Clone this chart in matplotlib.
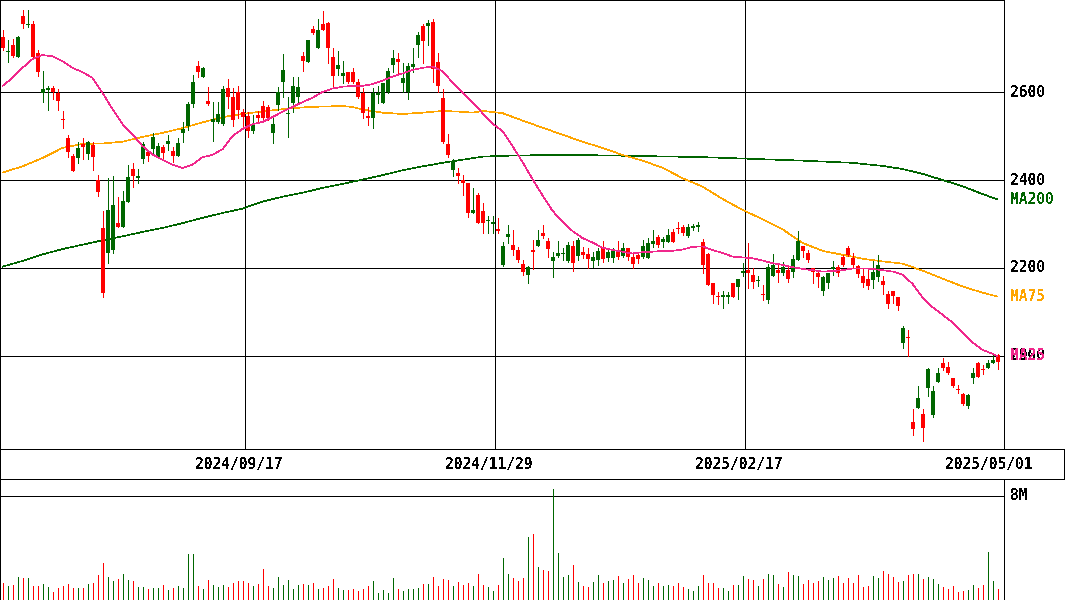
import matplotlib
matplotlib.use("Agg")
import matplotlib.pyplot as plt
from matplotlib import transforms

# ---- daily prices (yen), oldest first; last session is 2025/05/01 ----
opens = [2726, 2691, 2707, 2679, 2773, 2753, 2754, 2689, 2597, 2604,
         2610, 2598, 2538, 2496, 2455, 2449, 2482, 2459, 2480, 2400,
         2290, 2233, 2241, 2303, 2294, 2351, 2425, 2405, 2448, 2463,
         2470, 2449, 2476, 2481, 2466, 2455, 2507, 2523, 2572, 2659,
         2635, 2579, 2531, 2532, 2527, 2608, 2589, 2599, 2554, 2546,
         2512, 2548, 2568, 2567, 2506, 2570, 2623, 2551, 2574, 2589,
         2682, 2669, 2743, 2699, 2754, 2757, 2680, 2652, 2637, 2646,
         2646, 2623, 2598, 2545, 2542, 2593, 2574, 2599, 2661, 2674,
         2620, 2599, 2657, 2707, 2750, 2750, 2760, 2669, 2587, 2482,
         2423, 2416, 2400, 2394, 2326, 2366, 2330, 2307, 2300, 2288,
         2207, 2271, 2252, 2241, 2208, 2183, 2241, 2250, 2279, 2261,
         2215, 2227, 2232, 2216, 2250, 2227, 2237, 2232, 2215, 2218,
         2245, 2222, 2222, 2237, 2227, 2245, 2224, 2230, 2226, 2223,
         2255, 2270, 2260, 2260, 2281, 2292, 2294, 2273, 2290, 2294,
         2260, 2232, 2165, 2135, 2133, 2135, 2165, 2156, 2189, 2195,
         2184, 2170, 2140, 2127, 2182, 2195, 2189, 2195, 2192, 2218,
         2250, 2233, 2199, 2188, 2148, 2167, 2197, 2203, 2226, 2245,
         2222, 2205, 2182, 2174, 2173, 2180, 2170, 2140, 2148, 2133,
         2030, 2041, 1851, 1881, 1868, 1928, 1866, 1940, 1983, 1976,
         1949, 1925, 1913, 1886, 1951, 1983, 1969, 1973, 1983, 2002]
highs = [2741, 2718, 2720, 2728, 2786, 2786, 2761, 2695, 2648, 2614,
         2614, 2607, 2557, 2502, 2459, 2487, 2496, 2489, 2487, 2411,
         2329, 2404, 2409, 2362, 2375, 2434, 2438, 2424, 2487, 2468,
         2507, 2483, 2480, 2502, 2476, 2495, 2532, 2578, 2639, 2670,
         2657, 2611, 2578, 2578, 2614, 2629, 2608, 2614, 2561, 2555,
         2548, 2557, 2579, 2570, 2542, 2611, 2686, 2589, 2633, 2633,
         2690, 2718, 2750, 2766, 2784, 2760, 2699, 2694, 2670, 2646,
         2655, 2629, 2608, 2567, 2608, 2614, 2620, 2654, 2695, 2689,
         2665, 2665, 2699, 2737, 2754, 2764, 2766, 2688, 2606, 2505,
         2447, 2427, 2411, 2394, 2381, 2371, 2348, 2318, 2318, 2313,
         2259, 2298, 2286, 2248, 2218, 2205, 2264, 2286, 2298, 2268,
         2237, 2262, 2245, 2259, 2262, 2268, 2248, 2246, 2237, 2245,
         2261, 2243, 2245, 2261, 2256, 2246, 2235, 2237, 2264, 2268,
         2286, 2275, 2270, 2288, 2288, 2305, 2298, 2300, 2300, 2305,
         2265, 2233, 2165, 2146, 2147, 2146, 2167, 2174, 2212, 2257,
         2199, 2182, 2161, 2208, 2232, 2207, 2214, 2203, 2230, 2284,
         2250, 2241, 2199, 2194, 2182, 2189, 2217, 2207, 2230, 2250,
         2235, 2207, 2199, 2197, 2217, 2230, 2182, 2148, 2148, 2133,
         2068, 2059, 1879, 1932, 1879, 1972, 1932, 1972, 1995, 1987,
         1949, 1935, 1915, 1913, 1972, 1987, 1980, 1991, 2007, 2004]
lows = [2695, 2669, 2679, 2679, 2746, 2748, 2679, 2636, 2578, 2559,
        2583, 2559, 2519, 2453, 2421, 2438, 2447, 2447, 2423, 2364,
        2135, 2211, 2235, 2294, 2294, 2351, 2385, 2394, 2438, 2443,
        2461, 2449, 2447, 2468, 2442, 2455, 2487, 2514, 2567, 2635,
        2635, 2570, 2489, 2529, 2525, 2563, 2523, 2540, 2517, 2498,
        2506, 2530, 2536, 2536, 2485, 2559, 2588, 2498, 2555, 2574,
        2648, 2669, 2732, 2699, 2742, 2665, 2608, 2639, 2620, 2620,
        2620, 2586, 2542, 2525, 2519, 2574, 2574, 2597, 2646, 2641,
        2599, 2583, 2646, 2680, 2665, 2707, 2623, 2601, 2483, 2452,
        2410, 2394, 2366, 2317, 2326, 2302, 2280, 2279, 2279, 2279,
        2204, 2256, 2229, 2214, 2184, 2167, 2197, 2250, 2268, 2226,
        2180, 2226, 2218, 2214, 2194, 2218, 2222, 2199, 2203, 2207,
        2214, 2216, 2214, 2220, 2226, 2218, 2199, 2211, 2222, 2222,
        2248, 2248, 2248, 2258, 2258, 2279, 2275, 2270, 2286, 2283,
        2189, 2161, 2121, 2118, 2108, 2120, 2133, 2129, 2182, 2154,
        2154, 2159, 2127, 2121, 2182, 2169, 2184, 2169, 2180, 2218,
        2226, 2214, 2165, 2156, 2139, 2154, 2184, 2182, 2205, 2227,
        2203, 2180, 2156, 2152, 2154, 2171, 2141, 2108, 2120, 2105,
        2018, 2000, 1820, 1881, 1807, 1908, 1862, 1940, 1968, 1960,
        1930, 1916, 1888, 1881, 1938, 1953, 1959, 1973, 1983, 1970]
closes = [2699, 2693, 2682, 2726, 2754, 2755, 2679, 2646, 2606, 2610,
          2601, 2580, 2537, 2464, 2421, 2473, 2474, 2486, 2453, 2373,
          2143, 2332, 2343, 2294, 2352, 2407, 2410, 2410, 2481, 2455,
          2498, 2477, 2461, 2488, 2455, 2483, 2517, 2572, 2623, 2646,
          2654, 2573, 2539, 2551, 2606, 2588, 2536, 2559, 2544, 2512,
          2527, 2540, 2542, 2542, 2527, 2599, 2650, 2552, 2614, 2611,
          2670, 2718, 2733, 2741, 2742, 2699, 2637, 2661, 2644, 2623,
          2623, 2589, 2553, 2542, 2598, 2598, 2620, 2648, 2677, 2669,
          2631, 2659, 2663, 2730, 2716, 2756, 2652, 2614, 2487, 2457,
          2440, 2410, 2394, 2326, 2332, 2303, 2303, 2309, 2304, 2284,
          2250, 2277, 2241, 2218, 2191, 2202, 2237, 2264, 2273, 2243,
          2224, 2233, 2235, 2252, 2211, 2264, 2230, 2220, 2224, 2239,
          2220, 2237, 2239, 2226, 2246, 2226, 2209, 2220, 2250, 2256,
          2262, 2252, 2265, 2275, 2258, 2288, 2279, 2294, 2295, 2298,
          2207, 2161, 2139, 2134, 2139, 2139, 2135, 2174, 2194, 2189,
          2169, 2171, 2139, 2203, 2207, 2189, 2203, 2174, 2220, 2261,
          2239, 2218, 2192, 2180, 2179, 2189, 2203, 2188, 2207, 2230,
          2207, 2187, 2167, 2159, 2192, 2207, 2161, 2118, 2136, 2114,
          2063, 2040, 1833, 1904, 1836, 1970, 1920, 1961, 1973, 1962,
          1932, 1923, 1890, 1911, 1961, 1953, 1968, 1983, 1991, 1987]

# ---- daily volume, millions of shares ----
volumes = [1.29, 1.06, 1.14, 1.75, 1.68, 1.68, 1.06, 1.06, 1.21, 0.98,
           0.59, 0.90, 1.06, 1.21, 0.90, 0.90, 0.90, 1.21, 1.29, 1.91,
           2.84, 1.75, 1.45, 1.60, 1.99, 1.52, 1.45, 0.98, 0.98, 0.83,
           0.90, 0.90, 1.14, 0.75, 0.90, 1.06, 0.90, 3.54, 3.54, 1.06,
           0.83, 1.52, 1.14, 0.98, 1.14, 0.98, 1.29, 1.45, 1.45, 1.29,
           1.06, 1.21, 2.37, 1.06, 0.90, 1.75, 1.14, 1.52, 0.83, 1.14,
           1.21, 1.14, 1.29, 0.83, 0.90, 1.06, 1.60, 0.90, 0.75, 0.75,
           0.83, 0.67, 0.83, 1.06, 1.45, 0.52, 0.75, 0.52, 1.68, 0.83,
           0.67, 0.83, 0.83, 0.90, 1.21, 1.21, 1.75, 1.06, 1.60, 1.52,
           1.06, 1.37, 1.14, 1.29, 1.06, 1.99, 1.14, 0.98, 0.67, 1.14,
           3.23, 1.99, 1.68, 1.45, 1.68, 4.85, 5.06, 2.53, 2.27, 2.19,
           8.54, 3.59, 1.75, 1.88, 2.66, 1.34, 1.06, 0.95, 1.34, 1.88,
           1.26, 1.42, 1.50, 1.81, 1.26, 1.57, 1.88, 1.26, 1.65, 1.50,
           1.03, 1.26, 1.03, 1.11, 1.03, 1.26, 0.95, 0.80, 0.65, 1.03,
           1.88, 1.26, 1.26, 0.88, 0.88, 0.65, 1.11, 1.11, 1.81, 1.57,
           1.50, 1.03, 1.57, 1.96, 1.88, 1.19, 0.95, 2.12, 1.88, 1.81,
           1.19, 1.50, 1.26, 1.42, 1.73, 1.50, 1.65, 1.81, 1.26, 1.65,
           1.26, 1.88, 0.95, 1.03, 1.81, 1.65, 2.19, 1.96, 1.73, 1.34,
           1.42, 1.88, 1.96, 1.96, 1.57, 1.73, 1.57, 1.19, 0.95, 0.80,
           1.03, 0.57, 0.65, 0.72, 1.11, 0.88, 1.11, 3.66, 1.42, 0.80]

# ---- moving averages, sampled by session index ----
ma25_idx = [0, 2, 4, 6, 8, 10, 12, 14, 16, 18, 20, 22, 24, 26, 28, 30, 32, 34,
            36, 38, 40, 42, 44, 46, 48, 50, 52, 54, 56, 58, 60, 62, 64, 66, 68,
            70, 72, 74, 76, 78, 80, 82, 84, 86, 88, 90, 92, 94, 96, 98, 100,
            102, 104, 106, 108, 110, 112, 114, 116, 118, 120, 122, 124, 126,
            128, 130, 132, 134, 136, 138, 140, 142, 144, 146, 148, 150, 152,
            154, 156, 158, 160, 162, 164, 166, 168, 170, 172, 174, 176, 178,
            180, 182, 184, 186, 188, 190, 192, 194, 196, 198, 199]
ma25_val = [2614, 2632, 2655, 2675, 2684, 2681, 2670, 2655, 2645, 2632, 2598,
            2561, 2527, 2504, 2477, 2458, 2446, 2435, 2427, 2435, 2452, 2457,
            2470, 2500, 2516, 2527, 2532, 2543, 2555, 2566, 2577, 2587, 2600,
            2608, 2612, 2614, 2614, 2618, 2626, 2635, 2642, 2650, 2655, 2658,
            2647, 2622, 2599, 2577, 2552, 2528, 2511, 2477, 2441, 2402, 2365,
            2330, 2305, 2284, 2268, 2258, 2246, 2241, 2237, 2233, 2236, 2237,
            2239, 2239, 2242, 2248, 2249, 2241, 2234, 2226, 2224, 2222, 2217,
            2211, 2207, 2202, 2198, 2195, 2192, 2193, 2195, 2199, 2199, 2198,
            2195, 2192, 2185, 2164, 2133, 2111, 2094, 2076, 2054, 2031, 2014,
            2005, 2000]
ma75_idx = [0, 4, 8, 12, 16, 20, 24, 28, 32, 36, 40, 44, 48, 52, 56, 60, 64,
            68, 70, 72, 76, 80, 84, 88, 92, 94, 96, 100, 104, 108, 112, 116,
            120, 124, 128, 132, 136, 140, 144, 148, 152, 156, 160, 164, 168,
            172, 176, 180, 184, 188, 192, 196, 199]
ma75_val = [2417, 2431, 2450, 2473, 2482, 2483, 2487, 2498, 2507, 2518, 2531,
            2543, 2550, 2556, 2561, 2565, 2567, 2568, 2566, 2560, 2553, 2550,
            2553, 2557, 2555, 2553, 2557, 2552, 2535, 2519, 2503, 2487, 2473,
            2457, 2444, 2428, 2404, 2385, 2357, 2332, 2311, 2288, 2257, 2239,
            2230, 2221, 2215, 2210, 2194, 2176, 2158, 2144, 2135]
ma200_idx = [0, 4, 8, 12, 16, 20, 24, 28, 32, 36, 40, 44, 48, 52, 56, 60, 64,
             68, 72, 76, 80, 84, 88, 92, 96, 100, 110, 120, 130, 140, 150, 160,
             170, 176, 180, 184, 188, 192, 196, 199]
ma200_val = [2203, 2216, 2231, 2243, 2253, 2263, 2272, 2282, 2291, 2302, 2314,
             2325, 2335, 2351, 2362, 2371, 2382, 2391, 2401, 2411, 2422, 2431,
             2439, 2446, 2453, 2455, 2457, 2456, 2454, 2452, 2448, 2444, 2439,
             2432, 2425, 2414, 2400, 2386, 2368, 2356]

price_ticks = [2600, 2400, 2200, 2000]
date_labels = ["2024/09/17", "2024/11/29", "2025/02/17", "2025/05/01"]
date_label_idx = [49, 99, 149, 199]
grid_date_idx = [49, 99, 149]
vol_grid = 8  # millions

UP = "#006600"
DOWN = "#ff0000"
C_MA25 = "#f0288c"
C_MA75 = "#ffa500"
C_MA200 = "#006400"
INK = "#000000"

W, H = 1065, 600
plt.rcParams["text.antialiased"] = False
fig = plt.figure(figsize=(W / 100, H / 100), dpi=100)
fig.patch.set_facecolor("white")
PX = 72.0 / 100  # one pixel in points
THIN = 0.45      # hairline for the averages


def px_axes(x0, y0, x1, y1):
    return fig.add_axes([x0 / W, 1 - y1 / H, (x1 - x0) / W, (y1 - y0) / H])


def plain(a):
    a.set_xticks([])
    a.set_yticks([])
    for s in a.spines.values():
        s.set_linewidth(PX)
        s.set_color(INK)
        s.set_antialiased(False)


n = len(closes)
xs = list(range(n))

# ---- price panel ----
ax = px_axes(0, 0, 1004, 449)
plain(ax)
ax.set_xlim(-0.5, 1004 / 5 - 0.5)
ax.set_ylim(2000 - 93 / 0.44, 2600 + 92 / 0.44)

for p in price_ticks:
    ax.axhline(p, color=INK, lw=PX, antialiased=False, zorder=1)
for d in grid_date_idx:
    ax.axvline(d - 0.5, color=INK, lw=PX, antialiased=False, zorder=1)

ax.plot(ma200_idx, ma200_val, color=C_MA200, lw=THIN, antialiased=False, zorder=2)
ax.plot(ma75_idx, ma75_val, color=C_MA75, lw=THIN, antialiased=False, zorder=2)

min_body = 1.0 / 0.44
for i in xs:
    o, h, l, c = opens[i], highs[i], lows[i], closes[i]
    col = UP if c >= o else DOWN
    ax.vlines(i, l, h, color=col, lw=PX, antialiased=False, zorder=3)
    lo = min(o, c)
    ht = max(abs(c - o), min_body)
    ax.bar(i, ht, bottom=lo, width=0.8, color=col, linewidth=0,
           antialiased=False, zorder=4)

ax.plot(ma25_idx, ma25_val, color=C_MA25, lw=THIN, antialiased=False, zorder=5)

# right-hand labels
lab_x = transforms.blended_transform_factory(fig.transFigure, ax.transData)
fs = 10.5
fkw = dict(fontsize=fs, family="DejaVu Sans Mono", fontweight="bold")
for p in price_ticks:
    fig.text(1010 / W, p, str(p), transform=lab_x, ha="left", va="center",
             color=INK, **fkw)
for name, vals, col in (("MA200", ma200_val, C_MA200),
                        ("MA75", ma75_val, C_MA75),
                        ("MA25", ma25_val, C_MA25)):
    fig.text(1010 / W, vals[-1], name, transform=lab_x, ha="left",
             va="center", color=col, **fkw)

# ---- date strip ----
ad = px_axes(0, 449, 1064, 479)
plain(ad)
date_tr = transforms.offset_copy(
    transforms.blended_transform_factory(ax.transData, ad.transAxes),
    fig=fig, x=-6, y=0, units="dots")
for d, s in zip(date_label_idx, date_labels):
    fig.text(d - 0.5, 0.5, s, transform=date_tr, ha="center", va="center",
             color=INK, **fkw)

# ---- volume panel ----
av = px_axes(0, 479, 1004, 599.5)
plain(av)
av.set_xlim(ax.get_xlim())
av.set_ylim(0, vol_grid * 120.5 / 103.5)
av.axhline(vol_grid, color=INK, lw=PX, antialiased=False)
vcols = [UP if closes[i] >= opens[i] else DOWN for i in xs]
av.vlines(xs, 0, volumes, colors=vcols, lw=PX, antialiased=False)
vol_tr = transforms.blended_transform_factory(fig.transFigure, av.transData)
fig.text(1010 / W, vol_grid, f"{vol_grid}M", transform=vol_tr, ha="left",
         va="center", color=INK, **fkw)

fig.savefig("out.png", dpi=100, facecolor="white")
